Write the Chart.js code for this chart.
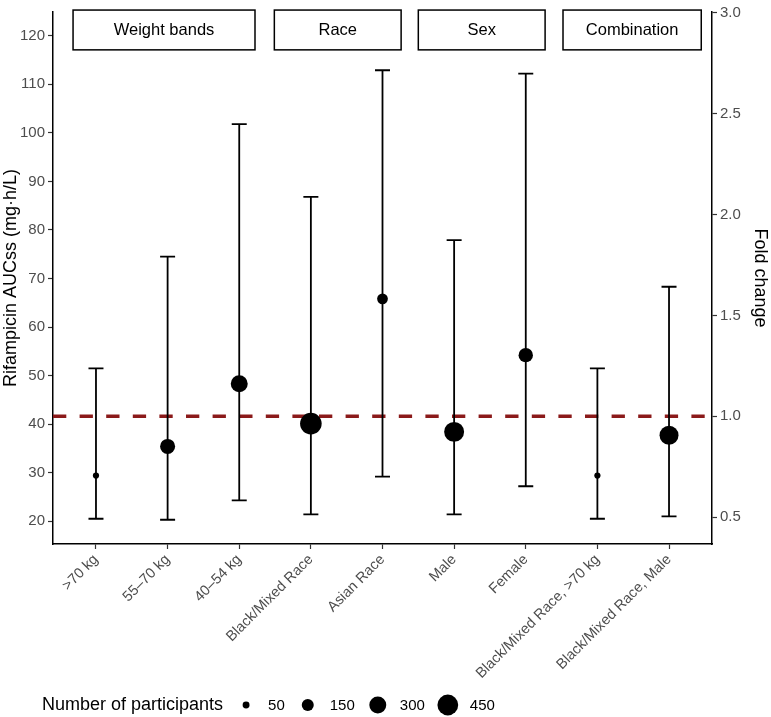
<!DOCTYPE html>
<html>
<head>
<meta charset="utf-8">
<script src="https://cdn.jsdelivr.net/npm/chart.js@4.4.1/dist/chart.umd.min.js"></script>
<style>
  html, body { margin: 0; padding: 0; background: #fff; }
  #wrap { width: 771px; height: 717px; }
</style>
</head>
<body>
<div id="wrap"><canvas id="c" width="771" height="717"></canvas></div>
<script>
// ---- data ----
const categories = ['>70 kg', '55\u201370 kg', '40\u201354 kg', 'Black/Mixed Race', 'Asian Race', 'Male', 'Female', 'Black/Mixed Race, >70 kg', 'Black/Mixed Race, Male'];
const aucMedian = [29.4, 35.4, 48.3, 40.1, 65.8, 38.4, 54.2, 29.4, 37.7];
const aucLower  = [20.5, 20.3, 24.3, 21.4, 29.2, 21.4, 27.2, 20.5, 21.0];
const aucUpper  = [51.5, 74.5, 101.8, 86.8, 112.9, 77.9, 112.2, 51.5, 68.3];
const participants = [40, 235, 300, 485, 120, 415, 215, 40, 375];
const legendSizes = [50, 150, 300, 450];
const refAUC = 41.6;               // fold change = 1.0
const yTickValues = [20, 30, 40, 50, 60, 70, 80, 90, 100, 110, 120];
const foldTickValues = [0.5, 1.0, 1.5, 2.0, 2.5, 3.0];
const groupLabels = ['Weight bands', 'Race', 'Sex', 'Combination'];
const groupStart = [0.68, 3.49, 5.50, 7.52];   // in category units
const groupEnd   = [3.22, 5.26, 7.27, 9.45];
const groupTop = 125.3, groupBottom = 117.1;   // in AUC units
const yMin = 15.3, yMax = 124.9;

// ---- style helpers ----
const FONT = "'Liberation Sans', Arial, sans-serif";
const radiusFor = n => 0.49 * Math.sqrt(n);

const overlayPlugin = {
  id: 'overlay',
  beforeDatasetsDraw(chart) {
    const { ctx, chartArea, scales: { x, y } } = chart;
    ctx.save();
    const yr = y.getPixelForValue(refAUC);
    ctx.strokeStyle = '#8b1a1a';
    ctx.lineWidth = 3.5;
    ctx.setLineDash([13.3, 13.3]);
    ctx.beginPath();
    ctx.moveTo(chartArea.left, yr);
    ctx.lineTo(chartArea.right, yr);
    ctx.stroke();
    ctx.setLineDash([]);
    ctx.strokeStyle = '#000';
    ctx.lineWidth = 1.8;
    const cap = 7.5;
    categories.forEach((c, i) => {
      const px = x.getPixelForValue(i + 1);
      const yl = y.getPixelForValue(aucLower[i]);
      const yu = y.getPixelForValue(aucUpper[i]);
      ctx.beginPath();
      ctx.moveTo(px, yl); ctx.lineTo(px, yu);
      ctx.moveTo(px - cap, yl); ctx.lineTo(px + cap, yl);
      ctx.moveTo(px - cap, yu); ctx.lineTo(px + cap, yu);
      ctx.stroke();
    });
    ctx.restore();
  },
  afterDraw(chart) {
    const { ctx, scales: { x, y } } = chart;
    ctx.save();
    groupLabels.forEach((g, i) => {
      const l = x.getPixelForValue(groupStart[i]);
      const r = x.getPixelForValue(groupEnd[i]);
      const t = y.getPixelForValue(groupTop);
      const b = y.getPixelForValue(groupBottom);
      ctx.fillStyle = '#fff';
      ctx.fillRect(l, t, r - l, b - t);
      ctx.strokeStyle = '#000';
      ctx.lineWidth = 1.5;
      ctx.strokeRect(l, t, r - l, b - t);
      ctx.fillStyle = '#000';
      ctx.font = '16.5px ' + FONT;
      ctx.textAlign = 'center';
      ctx.textBaseline = 'middle';
      ctx.fillText(g, (l + r) / 2, (t + b) / 2 + 0.5);
    });
    const ly = 705;
    let cx = 42;
    ctx.textAlign = 'left';
    ctx.textBaseline = 'middle';
    ctx.fillStyle = '#000';
    ctx.font = '18px ' + FONT;
    const title = 'Number of participants';
    ctx.fillText(title, cx, ly);
    cx += ctx.measureText(title).width + 12;
    ctx.font = '15px ' + FONT;
    legendSizes.forEach(v => {
      const kc = cx + 11;
      ctx.beginPath();
      ctx.arc(kc, ly, radiusFor(v), 0, Math.PI * 2);
      ctx.fill();
      cx = kc + 11 + 11;
      const s = String(v);
      ctx.fillText(s, cx, ly + 1);
      cx += ctx.measureText(s).width + 12;
    });
    ctx.restore();
  }
};

const tickGrid = { drawOnChartArea: false, tickLength: 5, tickColor: '#333', tickWidth: 1.2 };
const axisBorder = { display: true, color: '#000', width: 1.5 };

new Chart(document.getElementById('c'), {
  type: 'scatter',
  data: {
    datasets: [{
      data: categories.map((c, i) => ({ x: i + 1, y: aucMedian[i] })),
      backgroundColor: '#000',
      borderWidth: 0,
      pointRadius: participants.map(radiusFor),
      pointHoverRadius: participants.map(radiusFor),
      yAxisID: 'y',
      clip: false
    }]
  },
  options: {
    responsive: false,
    animation: false,
    devicePixelRatio: 1,
    layout: { padding: { top: 7, bottom: 0, left: 0, right: 0 } },
    plugins: { legend: { display: false }, tooltip: { enabled: false } },
    scales: {
      x: {
        type: 'linear', min: 0.4, max: 9.6,
        afterBuildTicks: s => { s.ticks = categories.map((c, i) => ({ value: i + 1 })); },
        afterFit: s => { s.height = 173; },
        ticks: {
          callback: v => categories[Math.round(v) - 1],
          autoSkip: false, minRotation: 45, maxRotation: 45,
          color: '#4d4d4d', font: { size: 14.5, family: FONT }, padding: 2
        },
        grid: tickGrid,
        border: axisBorder
      },
      y: {
        position: 'left', min: yMin, max: yMax,
        afterBuildTicks: s => { s.ticks = yTickValues.map(v => ({ value: v })); },
        afterFit: s => { s.width = 53; },
        ticks: { color: '#4d4d4d', font: { size: 15, family: FONT }, padding: 3 },
        grid: tickGrid,
        border: axisBorder,
        title: { display: true, text: 'Rifampicin AUCss (mg\u00b7h/L)', color: '#000', font: { size: 18, family: FONT }, padding: { top: 0, bottom: 0 } }
      },
      y2: {
        position: 'right', min: yMin / refAUC, max: yMax / refAUC,
        afterBuildTicks: s => { s.ticks = foldTickValues.map(v => ({ value: v })); },
        afterFit: s => { s.width = 59; },
        ticks: { color: '#4d4d4d', font: { size: 15, family: FONT }, padding: 3, callback: v => Number(v).toFixed(1) },
        grid: tickGrid,
        border: axisBorder,
        title: { display: true, text: 'Fold change', color: '#000', font: { size: 18, family: FONT }, padding: { top: 0, bottom: 0 } }
      }
    }
  },
  plugins: [overlayPlugin]
});
</script>
</body>
</html>
